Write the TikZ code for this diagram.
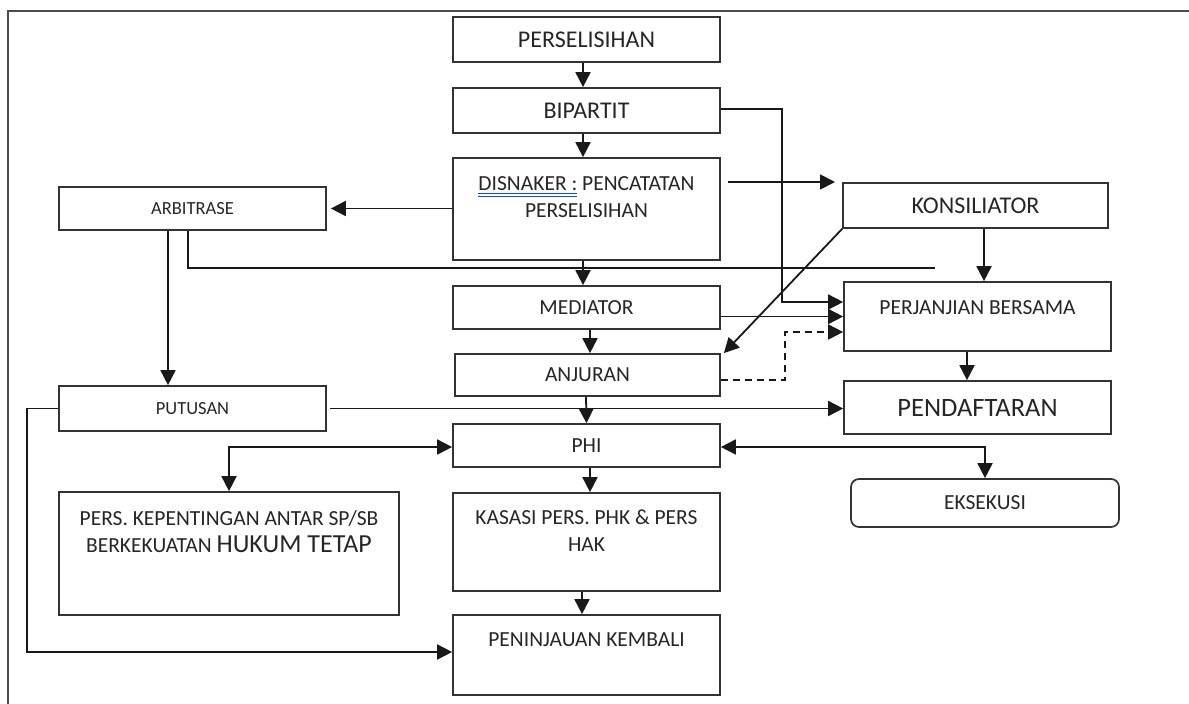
\documentclass[tikz,border=0pt]{standalone}
\usepackage{fontspec}
\setmainfont{Carlito}
\usetikzlibrary{arrows.meta,calc}
\newcommand\blueul[1]{\setbox0\hbox{#1}\rlap{\color{blue!70!cyan}\rule[-4pt]{\wd0}{1pt}\llap{\rule[-6.5pt]{\wd0}{1pt}}}\box0}
\begin{document}
\begin{tikzpicture}[x=1pt,y=-1pt,
  box/.style={draw=black!80, line width=1.7pt, inner sep=0pt, text=black!85},
  fbig/.style={font=\fontsize{24}{28}\selectfont, text=black!85},
  fhuge/.style={font=\fontsize{26.5}{30}\selectfont, text=black!85},
  fmid/.style={font=\fontsize{21.5}{27}\selectfont, text=black!85},
  fsmall/.style={font=\fontsize{18.5}{22}\selectfont, text=black!85},
  conn/.style={line width=1.8pt, draw=black!90},
  arr/.style={conn, -{Triangle[length=15pt,width=15pt]}},
  arrboth/.style={conn, {Triangle[length=15pt,width=15pt]}-{Triangle[length=15pt,width=15pt]}},
  frame/.style={line width=2pt, draw=black!70}]
\useasboundingbox (0,0) rectangle (1189,704);
\draw[frame] (1189,11) -- (8,11) -- (8,704);

% boxes
\node[box, fbig, minimum width=267pt, minimum height=45pt] (per) at (586.5,39.5) {PERSELISIHAN};
\node[box, fbig, minimum width=267pt, minimum height=45pt] (bip) at (586.5,110.5) {BIPARTIT};
\node[box, minimum width=267pt, minimum height=102pt] (dis) at (586.5,209) {};
\node[fmid, align=center] (disT) at (586.5,197) {\blueul{DISNAKER :}\ PENCATATAN\\PERSELISIHAN};
\node[box, fsmall, minimum width=267pt, minimum height=43pt] (arb) at (192.5,208.5) {ARBITRASE};
\node[box, fbig, minimum width=265pt, minimum height=45pt] (kon) at (975.5,205.5) {KONSILIATOR};
\node[box, fmid, minimum width=267pt, minimum height=43pt] (med) at (586.5,307.5) {MEDIATOR};
\node[box, minimum width=267pt, minimum height=69pt] (perj) at (977.5,316.5) {};
\node[fmid] (perjT) at (977.5,308) {PERJANJIAN BERSAMA};
\node[box, fmid, minimum width=265pt, minimum height=42pt] (anj) at (587.5,375) {ANJURAN};
\node[box, fsmall, minimum width=267pt, minimum height=45pt] (put) at (192.5,408.5) {PUTUSAN};
\node[box, fhuge, minimum width=267pt, minimum height=53pt] (pend) at (977.5,407.5) {PENDAFTARAN};
\node[box, fmid, minimum width=267pt, minimum height=43pt] (phi) at (586.5,445.5) {PHI};
\node[box, fmid, rounded corners=8pt, minimum width=268pt, minimum height=48pt] (eks) at (985,503) {EKSEKUSI};
\node[box, minimum width=340pt, minimum height=123pt] (pers) at (229,553.5) {};
\node[fmid, align=center] (persT) at (229,532) {PERS. KEPENTINGAN ANTAR SP/SB\\BERKEKUATAN {\fontsize{26}{28}\selectfont HUKUM TETAP}};
\node[box, minimum width=267pt, minimum height=98pt] (kas) at (586.5,542) {};
\node[fmid, align=center] (kasT) at (586.5,531) {KASASI PERS. PHK \& PERS\\HAK};
\node[box, minimum width=267pt, minimum height=80pt] (pen) at (586.5,655) {};
\node[fmid] (penT) at (586.5,640) {PENINJAUAN KEMBALI};

% free coordinates
\coordinate (dk1) at (728,182);
\coordinate (dk2) at (835,182);
\coordinate (arbEnd) at (935,268);

% connectors
\draw[arr] ([xshift=-3.5pt]per.south) -- ([xshift=-3.5pt]bip.north);
\draw[arr] ([xshift=-3.5pt]bip.south) -- ([xshift=-3.5pt]dis.north);
\draw[arr] ([yshift=1.5pt]bip.east) -- ++(61,0) |- ([yshift=14.5pt]perj.west);
\draw[arr] (dk1) -- (dk2);
\draw[arr] (dis.west |- arb.east) -- ([xshift=4pt]arb.east);
\draw[conn] ([xshift=-4.5pt]arb.south) |- (arbEnd);
\draw[arr] ([xshift=-24.5pt]arb.south) -- ([xshift=-24.5pt]put.north);
\draw[arr] ([xshift=-3.5pt]dis.south) -- ([xshift=-3.5pt]med.north);
\draw[arr] ([xshift=8.5pt]kon.south) -- ([xshift=6.5pt]perj.north);
\draw[arr] (med.east |- perj.west) -- (perj.west);
\draw[arr] (kon.south west) -- ([xshift=3pt]anj.north east);
\draw[arr] ([xshift=3.5pt]med.south) -- ([xshift=2.5pt]anj.north);
\draw[arr, dashed, dash pattern=on 7pt off 5pt] ([yshift=-5pt]anj.east) -- ++(64,0) |- ([yshift=-15.5pt]perj.west);
\draw[arr] ([xshift=-10.5pt]perj.south) -- ([xshift=-10.5pt]pend.north);
\draw[arr] ([xshift=3pt]put.east) -- (put.east -| pend.west);
\draw[arr] ([xshift=-1.5pt]anj.south) -- (phi.north);
\draw[arr] (put.west) -- ++(-31,0) |- ([yshift=3pt]pen.west);
\draw[arrboth] ([yshift=-1.5pt]phi.west) -| (pers.north);
\draw[arrboth] ([yshift=-1.5pt]phi.east) -| (eks.north);
\draw[arr] ([xshift=3.5pt]phi.south) -- ([xshift=3.5pt]kas.north);
\draw[arr] ([xshift=-4.5pt]kas.south) -- ([xshift=-4.5pt]pen.north);
\end{tikzpicture}
\end{document}
